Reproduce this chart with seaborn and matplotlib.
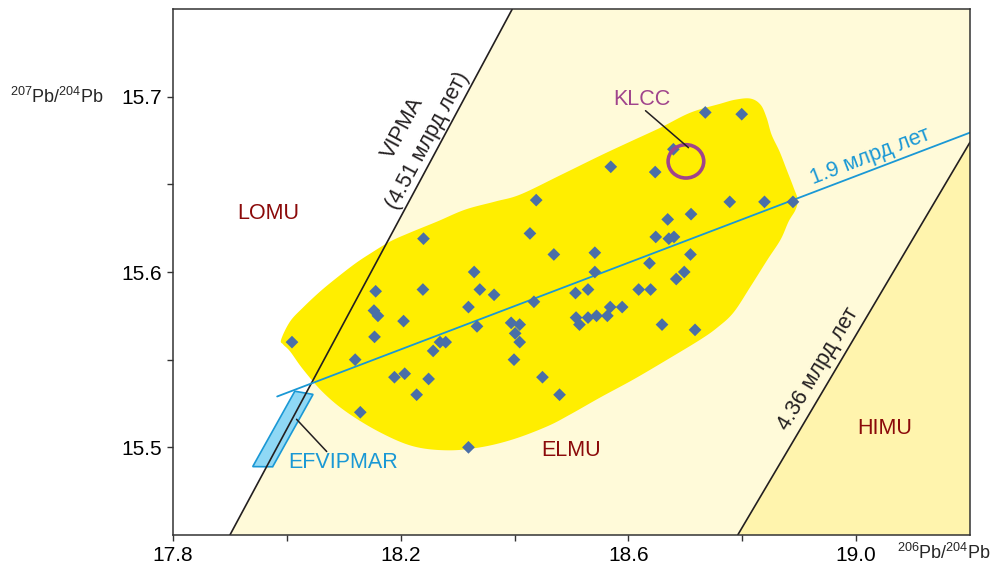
import numpy as np
import pandas as pd
import matplotlib
matplotlib.use("Agg")
import matplotlib.pyplot as plt
from matplotlib.patches import Ellipse, Polygon
import seaborn as sns

# --- Sample compositions: 206Pb/204Pb and 207Pb/204Pb ---
pb206 = [18.009, 18.120, 18.129, 18.154, 18.153, 18.160, 18.156, 18.189, 18.205, 18.207,
         18.228, 18.239, 18.240, 18.249, 18.257, 18.269, 18.279, 18.319, 18.319, 18.329,
         18.334, 18.339, 18.364, 18.394, 18.399, 18.401, 18.409, 18.409, 18.427, 18.434,
         18.438, 18.449, 18.469, 18.479, 18.507, 18.508, 18.514, 18.529, 18.529, 18.541,
         18.541, 18.544, 18.563, 18.568, 18.569, 18.589, 18.618, 18.637, 18.639, 18.647,
         18.648, 18.659, 18.669, 18.671, 18.680, 18.679, 18.684, 18.698, 18.709, 18.710,
         18.717, 18.735, 18.778, 18.799, 18.839, 18.889]
pb207 = [15.560, 15.550, 15.520, 15.563, 15.578, 15.575, 15.589, 15.540, 15.572, 15.542,
         15.530, 15.590, 15.619, 15.539, 15.555, 15.560, 15.560, 15.580, 15.500, 15.600,
         15.569, 15.590, 15.587, 15.571, 15.550, 15.565, 15.570, 15.560, 15.622, 15.583,
         15.641, 15.540, 15.610, 15.530, 15.588, 15.574, 15.570, 15.590, 15.574, 15.600,
         15.611, 15.575, 15.575, 15.580, 15.660, 15.580, 15.590, 15.605, 15.590, 15.657,
         15.620, 15.570, 15.630, 15.619, 15.620, 15.670, 15.596, 15.600, 15.610, 15.633,
         15.567, 15.691, 15.640, 15.690, 15.640, 15.640]

# --- Reference lines ---
vipma_x = [17.900, 18.396]        # geochron 4.51 Ga
vipma_y = [15.450, 15.750]
g436_x = [18.792, 19.200]         # geochron 4.36 Ga
g436_y = [15.450, 15.674]
iso19_x = [17.983, 19.200]        # 1.9 Ga isochron
iso19_y = [15.529, 15.6795]

# --- Field of the samples (outline) ---
field_x = [17.990, 18.0057, 18.0286, 18.0585, 18.0884, 18.1200, 18.1464, 18.1815, 18.2167,
           18.2642, 18.3134, 18.3661, 18.4101, 18.4804, 18.5508, 18.6035, 18.6562, 18.7090,
           18.7617, 18.7881, 18.8145, 18.8321, 18.8427, 18.8515, 18.8655, 18.8779, 18.8902,
           18.8972, 18.8937, 18.8814, 18.8673, 18.8444, 18.8145, 18.7846, 18.7565, 18.7266,
           18.6686, 18.6088, 18.5508, 18.4980, 18.4576, 18.3978, 18.3398, 18.2818, 18.2220,
           18.1640, 18.1059, 18.0637, 18.0286, 18.0057, 17.9934]
field_y = [15.5615, 15.5718, 15.5798, 15.5889, 15.5969, 15.6048, 15.6105, 15.6174, 15.6225,
           15.6288, 15.6356, 15.6402, 15.6442, 15.6552, 15.6664, 15.6744, 15.6823, 15.6909,
           15.6960, 15.6983, 15.6989, 15.6954, 15.6880, 15.6783, 15.6687, 15.6584, 15.6481,
           15.6413, 15.6356, 15.6288, 15.6185, 15.6071, 15.5917, 15.5769, 15.5684, 15.5615,
           15.5501, 15.5387, 15.5285, 15.5188, 15.5120, 15.5046, 15.5000, 15.4983, 15.5006,
           15.5085, 15.5199, 15.5313, 15.5444, 15.5547, 15.5587]

# --- EFVIPMAR field ---
efv_x = [17.940, 17.975, 18.046, 18.014]
efv_y = [15.489, 15.4889, 15.5302, 15.532]

# --- KLCC composition ---
klcc_x, klcc_y = 18.701, 15.6631
klcc_w, klcc_h = 0.0626, 0.0190

xlim = (17.8, 19.2)
ylim = (15.45, 15.75)
xticks_major = [17.8, 18.2, 18.6, 19.0]
xticks_minor = [18.0, 18.4, 18.8]
yticks_major = [15.5, 15.6, 15.7]
yticks_minor = [15.55, 15.65]

CREAM = "#fffad9"
HIMU_FILL = "#fff4ad"
FIELD = "#ffee00"
DIAMOND = "#4a6fa7"
ISO_BLUE = "#1a98d5"
PURPLE = "#a0448c"
DARKRED = "#8b0a0a"
BLACK = "#231f20"

LABEL_SIZE = 15.5


def closed_spline(x, y, n=16):
    """Catmull-Rom closed curve through the outline vertices."""
    p = np.column_stack([x, y])
    m = len(p)
    out = []
    t = np.linspace(0, 1, n, endpoint=False)[:, None]
    for i in range(m):
        p0, p1, p2, p3 = p[i - 1], p[i], p[(i + 1) % m], p[(i + 2) % m]
        seg = 0.5 * ((2 * p1) + (-p0 + p2) * t + (2 * p0 - 5 * p1 + 4 * p2 - p3) * t ** 2
                     + (-p0 + 3 * p1 - 3 * p2 + p3) * t ** 3)
        out.append(seg)
    return np.vstack(out)


sns.set_theme(style="ticks")
plt.rcParams["font.family"] = ["Liberation Sans", "DejaVu Sans"]
plt.rcParams["mathtext.default"] = "regular"

fig = plt.figure(figsize=(9.94, 5.67), dpi=100)
ax = fig.add_axes([173 / 994, 1 - 535 / 567, (970 - 173) / 994, (535 - 9) / 567])
ax.set_xlim(*xlim)
ax.set_ylim(*ylim)
ax.set_facecolor("white")

# Mantle domains between the geochrons
cream = Polygon([(vipma_x[0], vipma_y[0]), (vipma_x[1], vipma_y[1]), (xlim[1], ylim[1]),
                 (g436_x[1], g436_y[1]), (g436_x[0], g436_y[0])],
                closed=True, facecolor=CREAM, edgecolor="none", zorder=0)
ax.add_patch(cream)
himu = Polygon([(g436_x[0], g436_y[0]), (g436_x[1], g436_y[1]), (xlim[1], ylim[0])],
               closed=True, facecolor=HIMU_FILL, edgecolor="none", zorder=0)
ax.add_patch(himu)

# Field of samples
outline = closed_spline(field_x, field_y)
ax.add_patch(Polygon(outline, closed=True, facecolor=FIELD, edgecolor="none", zorder=1))

# EFVIPMAR
ax.add_patch(Polygon(np.column_stack([efv_x, efv_y]), closed=True, facecolor="#8fd8f5",
                     edgecolor=ISO_BLUE, linewidth=1.2, zorder=2))

# Geochrons and isochron
ref = pd.DataFrame({"x": vipma_x + g436_x, "y": vipma_y + g436_y,
                    "line": ["vipma"] * 2 + ["g436"] * 2})
sns.lineplot(data=ref, x="x", y="y", units="line", estimator=None, color=BLACK,
             linewidth=1.2, ax=ax, zorder=3, sort=False)
sns.lineplot(x=iso19_x, y=iso19_y, color=ISO_BLUE, linewidth=1.3, ax=ax, zorder=3,
             sort=False)

# Samples
pts = pd.DataFrame({"pb206": pb206, "pb207": pb207})
sns.scatterplot(data=pts, x="pb206", y="pb207", marker="D", s=42, color=DIAMOND,
                edgecolor="none", linewidth=0, ax=ax, zorder=4)

# KLCC
ax.add_patch(Ellipse((klcc_x, klcc_y), klcc_w, klcc_h, angle=0, facecolor="none",
                     edgecolor=PURPLE, linewidth=2.6, zorder=5))
ax.plot([18.630, 18.7055], [15.6920, 15.6709], color=BLACK, linewidth=1.1, zorder=5)
ax.text(18.623, 15.6983, "KLCC", color=PURPLE, fontsize=LABEL_SIZE, ha="center",
        va="center", zorder=6)

# EFVIPMAR label
ax.plot([18.017, 18.070], [15.5160, 15.4976], color=BLACK, linewidth=1.1, zorder=5)
ax.text(18.099, 15.4915, "EFVIPMAR", color=ISO_BLUE, fontsize=LABEL_SIZE, ha="center",
        va="center", zorder=6)

# Domain labels
for lx, ly, name in [(17.967, 15.6333, "LOMU"), (18.4998, 15.4983, "ELMU"),
                     (19.050, 15.5108, "HIMU")]:
    ax.text(lx, ly, name, color=DARKRED, fontsize=LABEL_SIZE, ha="center", va="center",
            zorder=6)

# Line labels
ax.text(19.0255, 15.6658, "1.9 млрд лет", color=ISO_BLUE, fontsize=LABEL_SIZE,
        rotation=21, ha="center", va="center", rotation_mode="anchor", zorder=6)
ax.text(18.2044, 15.6823, "VIPMA", color=BLACK, fontsize=LABEL_SIZE, rotation=61.8,
        ha="center", va="center", rotation_mode="anchor", zorder=6)
ax.text(18.2483, 15.6749, "(4.51 млрд лет)", color=BLACK, fontsize=LABEL_SIZE,
        rotation=61.8, ha="center", va="center", rotation_mode="anchor", zorder=6)
ax.text(18.9332, 15.5444, "4.36 млрд лет", color=BLACK, fontsize=LABEL_SIZE,
        rotation=59.3, ha="center", va="center", rotation_mode="anchor", zorder=6)

# Axes
ax.set_xticks(xticks_major)
ax.set_xticklabels([f"{v:.1f}" for v in xticks_major])
ax.set_xticks(xticks_minor, minor=True)
ax.set_yticks(yticks_major)
ax.set_yticklabels([f"{v:.1f}" for v in yticks_major])
ax.set_yticks(yticks_minor, minor=True)
ax.tick_params(axis="both", which="both", direction="out", length=4, width=1,
               color="#333333", labelsize=15, labelcolor="black", pad=4)
ax.set_xlabel("")
ax.set_ylabel("")
for sp in ax.spines.values():
    sp.set_visible(True)
    sp.set_color("#333333")
    sp.set_linewidth(1.1)
    sp.set_zorder(10)

fig.text(57 / 994, 1 - 97 / 567, r"$^{207}$Pb/$^{204}$Pb", fontsize=13, ha="center",
         va="center")
fig.text(944 / 994, 1 - 553 / 567, r"$^{206}$Pb/$^{204}$Pb", fontsize=13, ha="center",
         va="center")

fig.savefig("out.png", dpi=100)
